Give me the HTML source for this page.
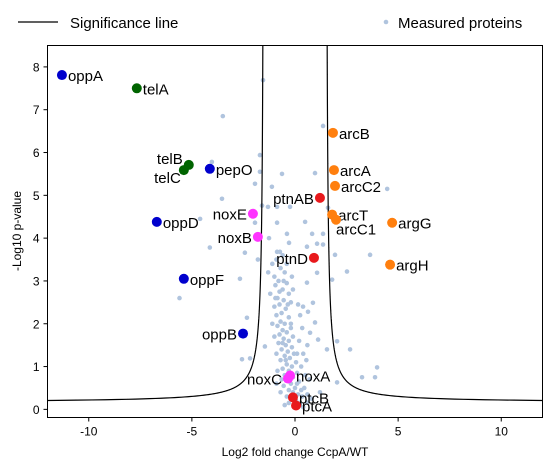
<!DOCTYPE html>
<html><head><meta charset="utf-8"><style>
body{margin:0;background:#fff;font-family:"Liberation Sans",sans-serif}
svg text{font-family:"Liberation Sans",sans-serif}
</style></head><body>
<svg id="chart" width="556" height="468" xmlns="http://www.w3.org/2000/svg">
<g id="legend">
<line x1="18" y1="22" x2="58" y2="22" stroke="#000" stroke-width="1.2"/>
<text x="70" y="28" font-size="15">Significance line</text>
<circle cx="386" cy="22" r="2.3" fill="#b0c4de"/>
<text x="398" y="28" font-size="15">Measured proteins</text>
</g>
<g id="grey"></g>
<g id="sig"></g>
<g id="hl"></g>
<rect x="47.5" y="45.5" width="495" height="372" fill="none" stroke="#000" stroke-width="1"/>
<g id="axes"></g>
<text x="295" y="456" font-size="12" text-anchor="middle">Log2 fold change CcpA/WT</text>
<text transform="translate(21,231) rotate(-90)" font-size="12" text-anchor="middle">-Log10 p-value</text>
</svg>
<script>
const xTicks=[-10,-5,0,5,10];
const yTicks=[0,1,2,3,4,5,6,7,8];
const names=["oppA","telA","telB","telC","pepO","oppD","oppF","oppB","noxE","noxB","ptnAB","ptnD","arcB","arcA","arcC2","arcT","arcC1","argG","argH","noxA","noxC","ptcB","ptcA"];
const fcX=[-11.3,-7.67,-5.15,-5.39,-4.13,-6.7,-5.39,-2.52,-2.04,-1.8,1.21,0.92,1.84,1.89,1.94,1.8,1.99,4.71,4.61,-0.24,-0.34,-0.1,0.05];
const pY=[7.81,7.5,5.71,5.59,5.62,4.38,3.05,1.77,4.57,4.03,4.94,3.54,6.46,5.59,5.22,4.55,4.43,4.36,3.38,0.79,0.72,0.28,0.09];
const groups=["opp","tel","tel","tel","opp","opp","opp","opp","nox","nox","ptn","ptn","arc","arc","arc","arc","arc","arc","arc","nox","nox","ptn","ptn"];
const labelSide=["r","r","lu","ld","r","r","r","l","l","l","l","l","r","r","r","r","rb","r","r","r","l","r","r"];
const greyX=[-1.55,-3.5,1.36,-1.7,-4.03,-1.7,-0.63,0.97,-1.94,4.47,-3.54,-1.12,-1.6,-1.31,-0.87,-0.24,1.6,-4.6,-0.87,0.49,-1.94,-0.39,0.83,1.36,-1.26,-4.13,-2.43,-0.29,1.07,0.58,1.36,1.94,3.64,-0.87,-0.73,1.07,2.52,1.8,-2.67,-1.8,0.58,0.87,0.39,0.63,0.97,0.73,1.12,1.55,2.04,2.67,-2.33,-2.57,-2.18,-1.46,3.25,3.88,3.98,2.04,1.21,0.58,-5.6,
-1.1,-0.9,-0.7,-0.6,-1.0,-0.8,-0.5,-0.95,-0.6,-0.4,-1.2,-0.85,-0.55,-0.3,-0.75,-1.0,-0.45,-0.65,-0.9,-0.3,-0.7,-0.5,-0.85,-0.2,-0.6,-0.4,-0.75,-0.1,-0.55,-0.3,-0.8,-0.45,-0.15,-0.65,-0.35,-0.05,-0.5,-0.25,-0.7,0.05,-0.4,-0.15,-0.6,-0.3,0.1,-0.5,-0.1,-0.35,0.2,-0.2,-0.55,0.0,-0.3,0.3,-0.1,0.15,-0.4,0.35,-0.2,0.05,0.25,-0.3,0.45,0.5,0.3,0.4,0.2,0.35,0.25,-0.2,-0.1,-0.9,-1.0,-0.95,-0.55,-0.75,-0.35,-0.6,-0.45,-0.25,0.1,-0.65,-0.85,0.6,0.7,0.55,-1.3,-1.1,-0.9,0.8,0.4,-0.05,-0.5,-0.7,0.6,0.15,-0.15,-0.4,0.1,-0.2];
const greyY=[7.69,6.85,6.62,5.94,5.78,5.55,5.5,5.52,5.27,5.15,4.92,5.2,4.76,4.73,4.73,4.73,4.71,4.45,4.36,4.38,4.36,4.1,4.1,4.1,4.0,3.78,3.66,3.89,3.87,3.8,3.85,3.61,3.61,3.68,3.68,3.19,3.22,3.03,3.05,3.5,2.96,2.49,2.4,2.28,2.03,1.79,1.63,1.4,1.59,1.4,2.14,1.17,1.19,1.47,0.75,0.75,0.98,0.63,0.4,0.16,2.6,
3.4,3.5,3.3,3.6,3.1,3.0,3.2,2.9,2.8,2.95,2.7,2.6,2.55,2.7,2.45,2.4,2.35,2.25,2.2,2.15,2.05,2.0,1.95,1.9,1.85,1.8,1.75,1.7,1.65,1.6,1.55,1.5,1.45,1.4,1.35,1.3,1.25,1.2,1.15,1.1,1.05,1.0,0.95,0.9,0.85,0.8,0.75,0.7,0.65,0.6,0.55,0.5,0.45,0.45,0.4,0.35,0.3,0.3,0.25,0.2,0.15,0.15,0.5,0.8,1.0,1.3,1.6,1.9,2.2,2.5,2.8,1.3,1.7,2.6,3.0,2.75,2.45,1.55,1.15,0.8,0.6,0.7,0.9,0.35,0.7,1.15,3.2,2.0,0.6,0.25,0.05,0.05,0.1,0.4,1.5,2.45,3.1,3.4,1.3,2.0];
const sigX0=1.5, sigK=0.5, sigY0=0.16;
const colors={opp:"#0000cd",tel:"#006400",arc:"#ff7f0e",ptn:"#e8191c",nox:"#ff33ff"};
const X0=-12,X1=12,Y0=-0.19,Y1=8.5,L=47.5,R=542.5,T=45.5,B=417.5;
const sx=v=>L+(v-X0)/(X1-X0)*(R-L);
const sy=v=>B-(v-Y0)/(Y1-Y0)*(B-T);
const NS="http://www.w3.org/2000/svg";
function mk(tag,attrs,parent){const e=document.createElementNS(NS,tag);for(const k in attrs)e.setAttribute(k,attrs[k]);parent.appendChild(e);return e;}
const gG=document.getElementById('grey');
for(let i=0;i<greyX.length;i++){
 const c=mk('circle',{cx:sx(greyX[i]),cy:sy(greyY[i]),r:2.3,fill:"#b0c4de"},gG);
 
 
}
const gS=document.getElementById('sig');
['right','left'].forEach(side=>{
 const s=side==='right'?1:-1;let d="";
 for(let y=Y1+0.2;y>=sigY0+0.005;y-=0.005){
  const x=sigX0+sigK/(y-sigY0); if(x>X1)break;
  d+=(d?"L":"M")+sx(s*x).toFixed(2)+","+sy(y).toFixed(2);
 }
 d+="L"+sx(s*X1)+","+sy(sigY0+sigK/(X1-sigX0));
 const p=mk('path',{d:d,fill:"none",stroke:"#000","stroke-width":1.2},gS);
 
 
});
const clip=mk('clipPath',{id:'cp'},document.getElementById('chart'));
mk('rect',{x:L,y:T,width:R-L,height:B-T},clip);
gS.setAttribute('clip-path','url(#cp)');gG.setAttribute('clip-path','url(#cp)');
const gH=document.getElementById('hl');
for(let i=0;i<names.length;i++){
 const cx=sx(fcX[i]),cy=sy(pY[i]);
 const c=mk('circle',{cx:cx,cy:cy,r:5,fill:colors[groups[i]]},gH);
 
 
 let tx=cx+6,ty=cy+6,anc="start";
 const sd=labelSide[i];
 if(sd==='l'){tx=cx-6;anc="end";}
 if(sd==='lu'){tx=cx-6;ty=cy-1;anc="end";}
 if(sd==='ld'){tx=cx-3;ty=cy+13;anc="end";}
 if(sd==='rb'){tx=cx;ty=cy+15;}
 const t=mk('text',{x:tx,y:ty,"font-size":15,"text-anchor":anc},gH);
 t.textContent=names[i];
 
 
}
const gA=document.getElementById('axes');
xTicks.forEach(v=>{
 const l=mk('line',{x1:sx(v),x2:sx(v),y1:B,y2:B+4,stroke:"#000"},gA);
 
 
 const t=mk('text',{x:sx(v),y:B+18,"font-size":12,"text-anchor":"middle"},gA);
 t.textContent=v;
 
 
});
yTicks.forEach(v=>{
 const l=mk('line',{x1:L-4,x2:L,y1:sy(v),y2:sy(v),stroke:"#000"},gA);
 
 
 const t=mk('text',{x:L-8,y:sy(v)+4.5,"font-size":12,"text-anchor":"end"},gA);
 t.textContent=v;
 
 
});
</script>
</body></html>
